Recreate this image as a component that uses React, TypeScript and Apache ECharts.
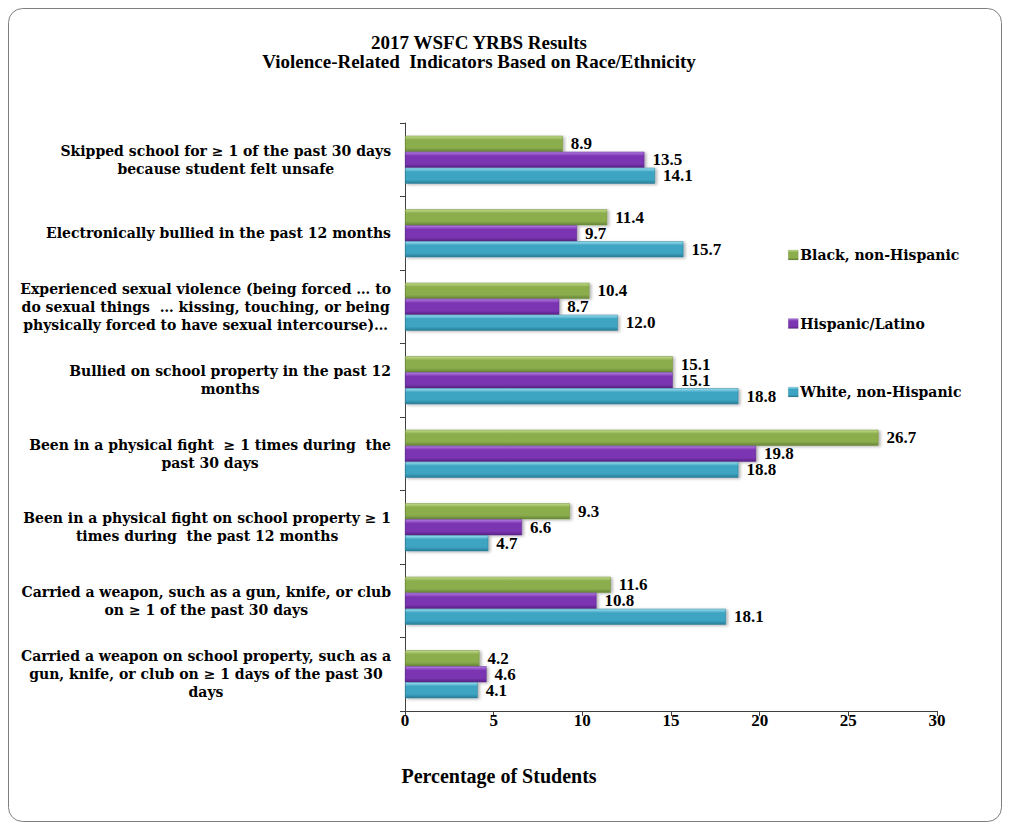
import React, { useEffect, useRef } from "react";
import * as echarts from "echarts";

const categories = [
  "Skipped school for ≥ 1 of the past 30 days\nbecause student felt unsafe",
  "Electronically bullied in the past 12 months",
  "Experienced sexual violence (being forced … to\ndo sexual things  … kissing, touching, or being\nphysically forced to have sexual intercourse)…",
  "Bullied on school property in the past 12\nmonths",
  "Been in a physical fight  ≥ 1 times during  the\npast 30 days",
  "Been in a physical fight on school property ≥ 1\ntimes during  the past 12 months",
  "Carried a weapon, such as a gun, knife, or club\non ≥ 1 of the past 30 days",
  "Carried a weapon on school property, such as a\ngun, knife, or club on ≥ 1 days of the past 30\ndays",
];

const seriesNames = ["Black, non-Hispanic", "Hispanic/Latino", "White, non-Hispanic"];
const blackValues = [8.9, 11.4, 10.4, 15.1, 26.7, 9.3, 11.6, 4.2];
const hispanicValues = [13.5, 9.7, 8.7, 15.1, 19.8, 6.6, 10.8, 4.6];
const whiteValues = [14.1, 15.7, 12.0, 18.8, 18.8, 4.7, 18.1, 4.1];
const xTicks = { min: 0, max: 30, interval: 5 };

const FONT = "Liberation Serif, Times New Roman, serif";
const WIDE_FONT = "DejaVu Serif, Liberation Serif, serif";

function grad(light: string, mid: string, dark: string) {
  return new echarts.graphic.LinearGradient(0, 0, 0, 1, [
    { offset: 0, color: light },
    { offset: 0.25, color: mid },
    { offset: 0.75, color: mid },
    { offset: 1, color: dark },
  ]);
}

export default function App() {
  const ref = useRef<HTMLDivElement>(null);
  useEffect(() => {
    if (!ref.current) return;
    const chart = echarts.init(ref.current, null, { renderer: "svg" });
    const palette = [
      { light: "#c3dc8c", mid: "#8cad4c", dark: "#66863a", border: "#6f8f3a" },
      { light: "#b47ee4", mid: "#7c36b2", dark: "#5a2288", border: "#5f2a8e" },
      { light: "#9fe0f2", mid: "#3ca4c2", dark: "#2a7c95", border: "#2d7f98" },
    ];
    const valuesList = [blackValues, hispanicValues, whiteValues];
    const series = seriesNames.map((name, i) => ({
      name,
      type: "bar",
      data: valuesList[i],
      barWidth: 16,
      barGap: "0%",
      itemStyle: {
        color: grad(palette[i].light, palette[i].mid, palette[i].dark),
        borderColor: palette[i].border,
        borderWidth: 0.5,
        shadowBlur: 3,
        shadowOffsetX: 2,
        shadowOffsetY: 1,
        shadowColor: "rgba(0,0,0,0.3)",
      },
      label: {
        show: true,
        position: "right",
        distance: 8,
        formatter: (p: any) => Number(p.value).toFixed(1),
        fontFamily: FONT,
        fontWeight: "bold",
        fontSize: 17,
        lineHeight: 15,
        color: "#000",
      },
    }));

    chart.setOption({
      animation: false,
      backgroundColor: "#fff",
      title: {
        text: "2017 WSFC YRBS Results\nViolence-Related  Indicators Based on Race/Ethnicity",
        left: 471,
        top: 25,
        padding: 0,
        textAlign: "center",
        textStyle: {
          fontFamily: FONT,
          fontWeight: "bold",
          fontSize: 19,
          lineHeight: 19,
          color: "#000",
        },
      },
      legend: {
        orient: "vertical",
        left: 775,
        top: 235,
        itemGap: 54.5,
        itemWidth: 10,
        itemHeight: 10,
        itemStyle: { borderColor: "rgba(0,0,0,0.2)", borderWidth: 0.5 },
        icon: "rect",
        textStyle: { fontFamily: WIDE_FONT, fontWeight: "bold", fontSize: 14, color: "#000", padding: [0, 0, 0, -3] },
        data: seriesNames,
      },
      graphic: [
        {
          type: "rect",
          shape: { x: 0.5, y: 0.5, width: 993, height: 813, r: 14 },
          style: { fill: "none", stroke: "#7f7f7f", lineWidth: 1 },
          silent: true,
        },
      ],
      grid: { left: 397, top: 115, width: 532, height: 588, containLabel: false },
      xAxis: {
        type: "value",
        min: xTicks.min,
        max: xTicks.max,
        interval: xTicks.interval,
        name: "Percentage of Students",
        nameLocation: "middle",
        nameGap: 55,
        nameTextStyle: {
          fontFamily: FONT,
          fontWeight: "bold",
          fontSize: 20,
          color: "#000",
          padding: [0, 344, 0, 0],
        },
        axisLine: { show: true, lineStyle: { color: "#404040", width: 1 } },
        axisTick: { show: true, length: 5, lineStyle: { color: "#404040" } },
        splitLine: { show: false },
        axisLabel: {
          margin: 1,
          fontFamily: FONT,
          fontWeight: "bold",
          fontSize: 17,
          color: "#000",
        },
      },
      yAxis: {
        type: "category",
        inverse: true,
        data: categories,
        axisLine: { show: true, lineStyle: { color: "#404040", width: 1 } },
        axisTick: { show: true, length: 5, lineStyle: { color: "#404040" } },
        axisLabel: {
          margin: 14,
          align: "right",
          formatter: (v: string) => v.split("\n").map((l) => `{c|${l}}`).join("\n"),
          rich: {
            c: {
              align: "center",
              fontFamily: WIDE_FONT,
              fontWeight: "bold",
              fontSize: 14,
              lineHeight: 18,
              color: "#000",
            },
          },
        },
      },
      series,
    });
    return () => chart.dispose();
  }, []);
  return <div ref={ref} style={{ width: 994, height: 815 }} />;
}
